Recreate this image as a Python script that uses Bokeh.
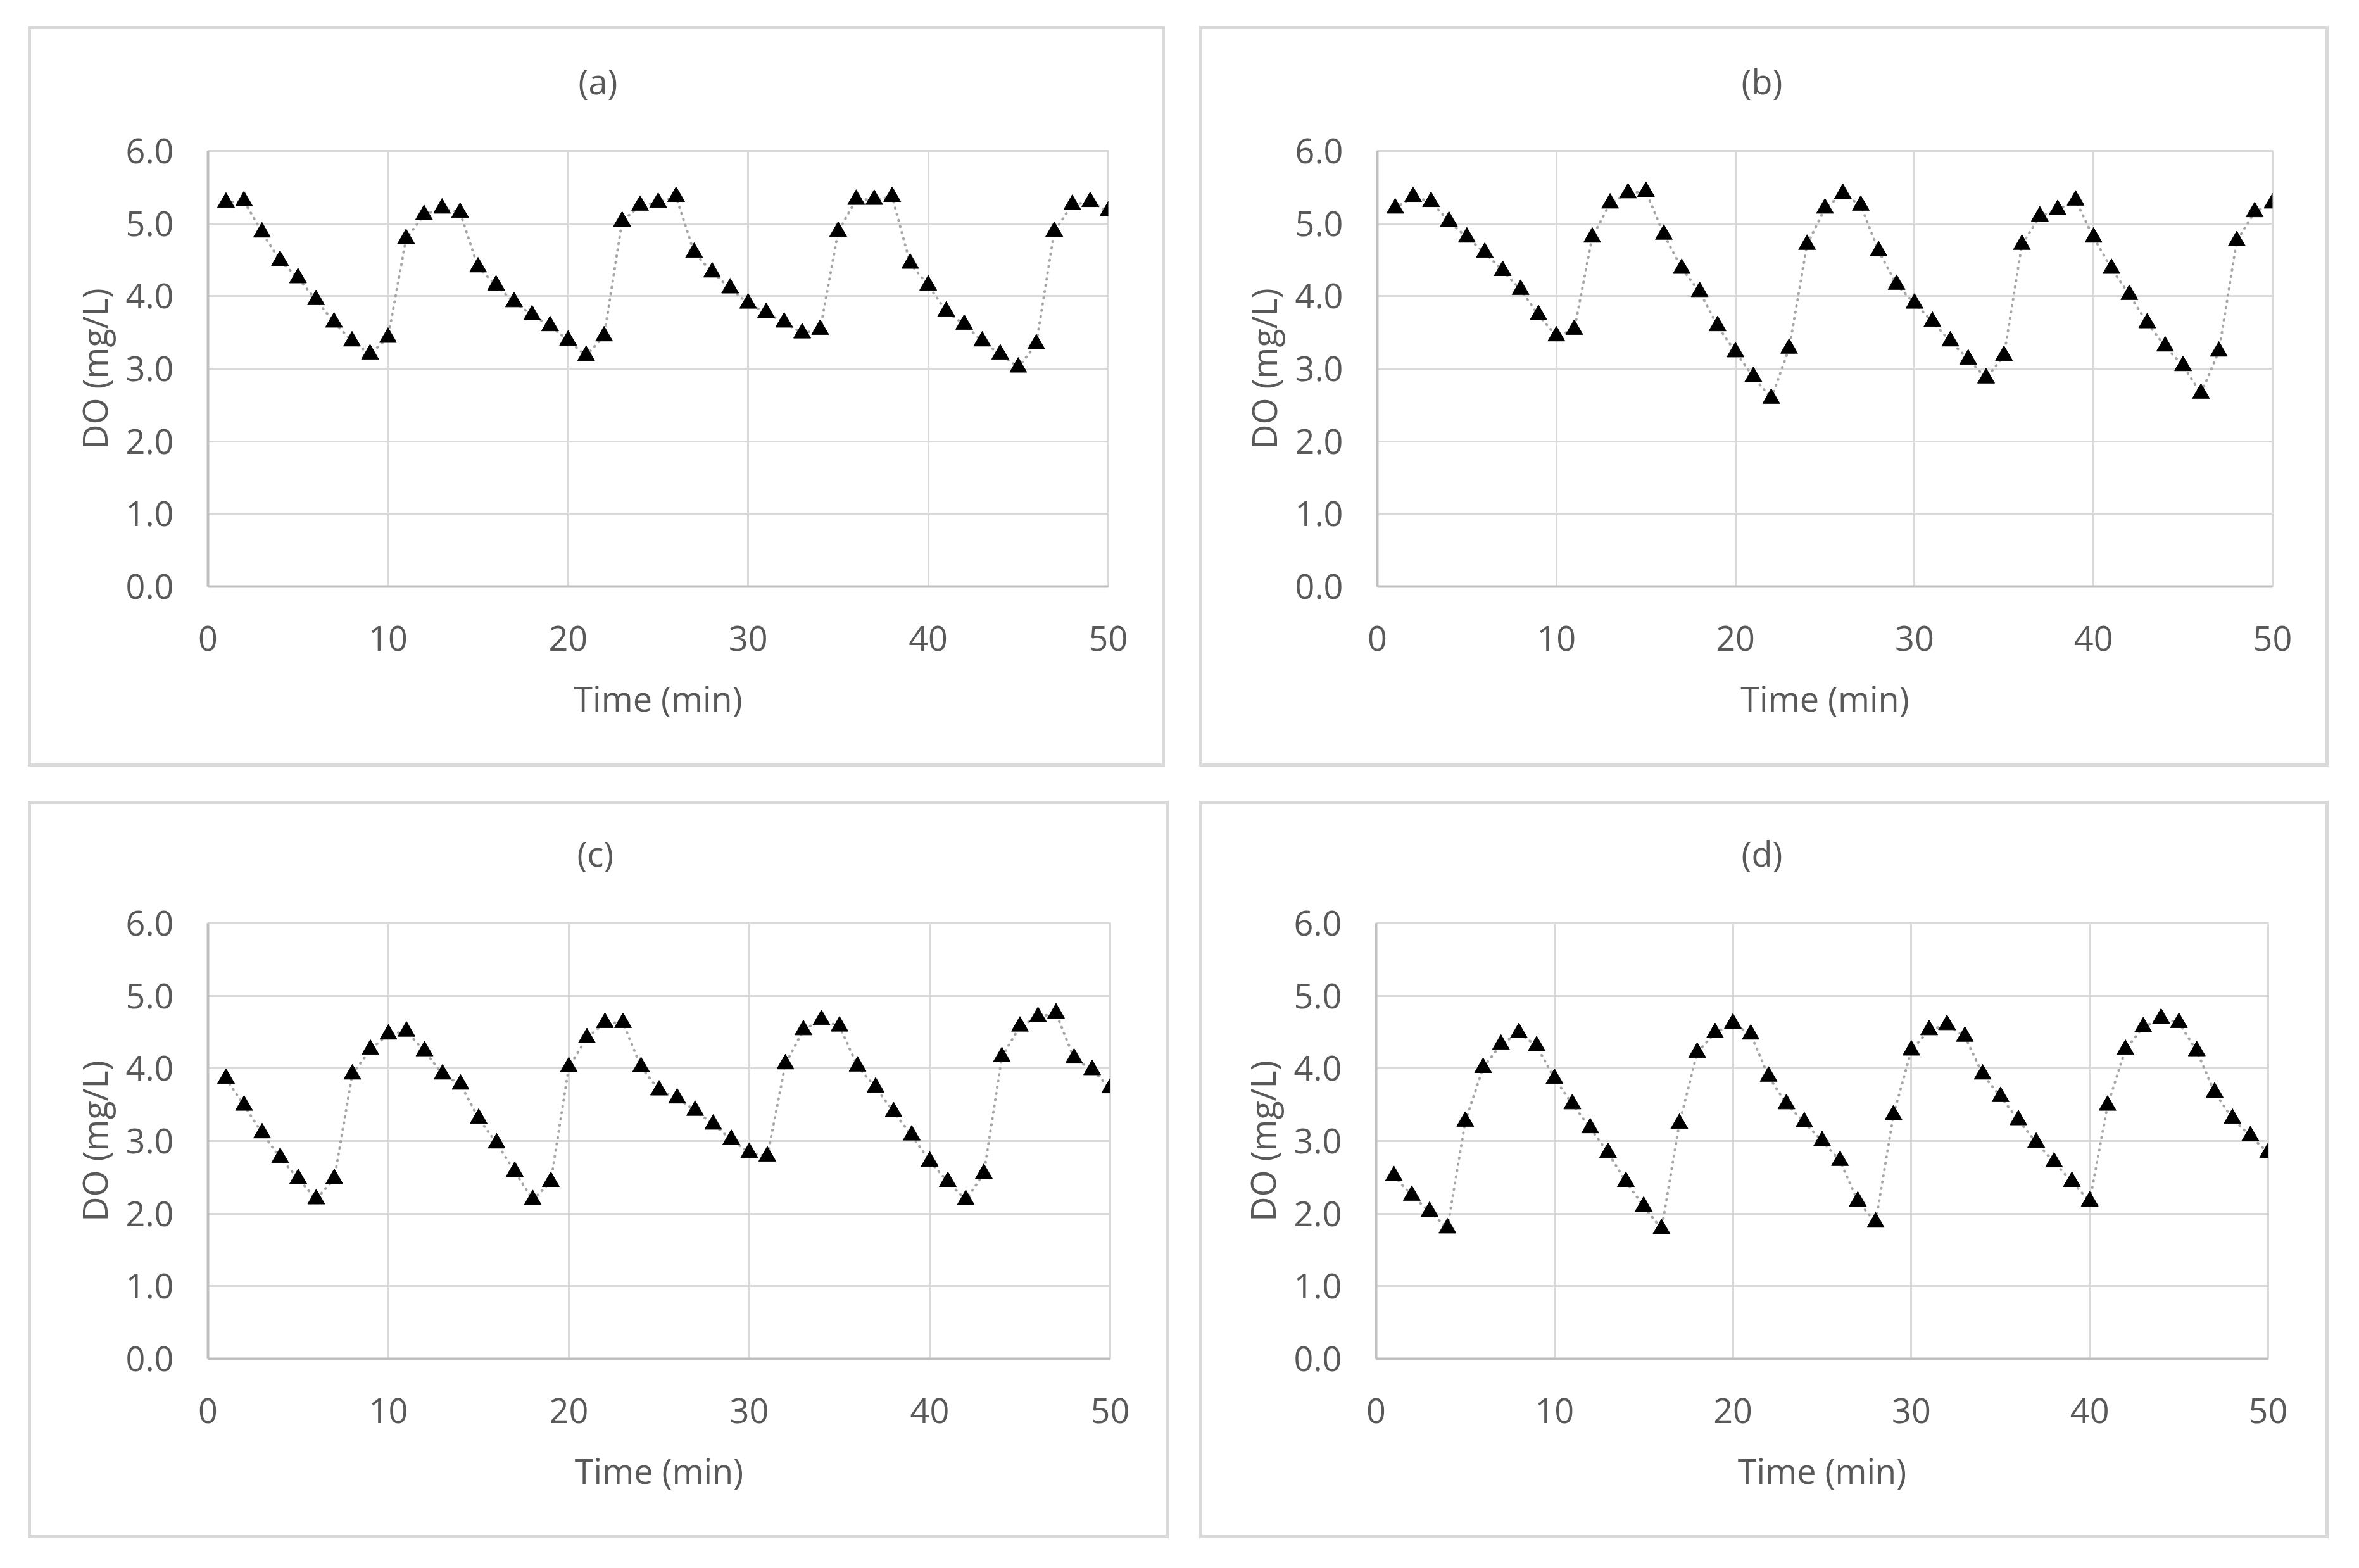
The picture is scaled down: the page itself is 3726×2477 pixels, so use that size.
from bokeh.plotting import figure
from bokeh.models import FixedTicker, NumeralTickFormatter, Title, Range1d
from bokeh.layouts import column, row
from bokeh.embed import file_html
from bokeh.resources import INLINE

# ---- data ----
time_min = list(range(1, 51))

do_a = [5.29, 5.31, 4.88, 4.49, 4.25, 3.95, 3.64, 3.38, 3.20, 3.43,
        4.79, 5.12, 5.21, 5.15, 4.40, 4.15, 3.92, 3.74, 3.59, 3.39,
        3.18, 3.45, 5.03, 5.25, 5.29, 5.37, 4.60, 4.33, 4.11, 3.90,
        3.77, 3.64, 3.49, 3.54, 4.89, 5.33, 5.33, 5.37, 4.45, 4.15,
        3.79, 3.61, 3.38, 3.20, 3.02, 3.34, 4.89, 5.26, 5.30, 5.17]

do_b = [5.21, 5.37, 5.30, 5.03, 4.81, 4.60, 4.35, 4.09, 3.74, 3.45,
        3.54, 4.81, 5.28, 5.42, 5.44, 4.85, 4.38, 4.06, 3.59, 3.23,
        2.89, 2.59, 3.28, 4.71, 5.21, 5.41, 5.25, 4.62, 4.16, 3.90,
        3.65, 3.38, 3.13, 2.87, 3.18, 4.71, 5.10, 5.19, 5.32, 4.81,
        4.38, 4.02, 3.63, 3.31, 3.04, 2.66, 3.24, 4.76, 5.16, 5.28]

do_c = [3.86, 3.49, 3.11, 2.77, 2.48, 2.20, 2.48, 3.92, 4.26, 4.47,
        4.51, 4.24, 3.92, 3.78, 3.31, 2.97, 2.58, 2.19, 2.44, 4.02,
        4.42, 4.63, 4.63, 4.02, 3.70, 3.59, 3.42, 3.23, 3.02, 2.84,
        2.79, 4.06, 4.53, 4.67, 4.58, 4.03, 3.74, 3.40, 3.08, 2.72,
        2.44, 2.19, 2.55, 4.16, 4.58, 4.71, 4.76, 4.14, 3.98, 3.73]

do_d = [2.52, 2.25, 2.03, 1.80, 3.27, 4.01, 4.33, 4.49, 4.31, 3.86,
        3.51, 3.18, 2.84, 2.44, 2.10, 1.79, 3.24, 4.22, 4.49, 4.62,
        4.47, 3.89, 3.51, 3.26, 3.00, 2.73, 2.17, 1.88, 3.36, 4.25,
        4.53, 4.60, 4.44, 3.92, 3.61, 3.29, 2.98, 2.71, 2.44, 2.17,
        3.49, 4.26, 4.57, 4.69, 4.63, 4.24, 3.67, 3.31, 3.07, 2.84]

panel_titles = ["(a)", "(b)", "(c)", "(d)"]
x_ticks = [0, 10, 20, 30, 40, 50]
y_ticks = [0, 1, 2, 3, 4, 5, 6]
x_label = "Time (min)"
y_label = "DO (mg/L)"

FONT = "Open Sans"
FS = "54px"
TXT = "#595959"
GRID = "#D9D9D9"
AXIS = "#BFBFBF"


def make_panel(title, title_offset, y, width, height, bl, br, bt, bb, margin):
    p = figure(width=width, height=height,
               x_range=Range1d(0, 50), y_range=Range1d(0, 6),
               output_backend="svg", toolbar_location=None,
               min_border_left=bl, min_border_right=br,
               min_border_top=bt, min_border_bottom=bb)
    p.margin = margin
    p.styles = {"border": "5px solid #D9D9D9"}
    p.background_fill_color = "white"
    p.border_fill_color = "white"
    p.outline_line_color = GRID
    p.outline_line_width = 3

    # trailing blank line lifts the visible title above the frame
    p.title = Title(text=title + "\n", align="left", offset=title_offset,
                    standoff=0, vertical_align="bottom",
                    text_line_height=1.0,
                    text_font=FONT, text_font_size=FS,
                    text_font_style="normal", text_color=TXT)

    p.xaxis.ticker = FixedTicker(ticks=x_ticks)
    p.yaxis.ticker = FixedTicker(ticks=y_ticks)
    p.yaxis.formatter = NumeralTickFormatter(format="0.0")
    p.xgrid.ticker = FixedTicker(ticks=x_ticks)
    p.ygrid.ticker = FixedTicker(ticks=y_ticks)
    for g in (p.xgrid, p.ygrid):
        g.grid_line_color = GRID
        g.grid_line_width = 3

    for ax in (p.xaxis, p.yaxis):
        ax.axis_line_color = AXIS
        ax.axis_line_width = 4
        ax.major_tick_line_color = None
        ax.minor_tick_line_color = None
        ax.major_tick_out = 0
        ax.major_tick_in = 0
        ax.major_label_text_font = FONT
        ax.major_label_text_font_size = FS
        ax.major_label_text_color = TXT
        ax.axis_label_text_font = FONT
        ax.axis_label_text_font_size = FS
        ax.axis_label_text_color = TXT
        ax.axis_label_text_font_style = "normal"

    p.xaxis.axis_label = x_label
    p.yaxis.axis_label = y_label
    p.xaxis.major_label_standoff = 62
    p.xaxis.axis_label_standoff = 35
    p.yaxis.major_label_standoff = 54
    p.yaxis.axis_label_standoff = 10

    p.line(time_min, y, line_color="#A6A6A6", line_width=4,
           line_dash="1 9", line_cap="round")
    p.scatter(time_min, y, marker="triangle", size=27,
              fill_color="black", line_color="black")
    return p


pa = make_panel(panel_titles[0], 585, do_a, 1796, 1170, 279, 95, 192, 290, (41, 0, 0, 44))
pb = make_panel(panel_titles[1], 575, do_b, 1784, 1170, 276, 94, 192, 290, (41, 0, 0, 54))
pc = make_panel(panel_titles[2], 583, do_c, 1802, 1165, 279, 98, 188, 289, (54, 0, 0, 44))
pd = make_panel(panel_titles[3], 577, do_d, 1784, 1165, 274, 101, 188, 289, (54, 0, 0, 48))

layout = column(row(pa, pb), row(pc, pd))

with open("out.html", "w") as f:
    f.write(file_html(layout, INLINE))
